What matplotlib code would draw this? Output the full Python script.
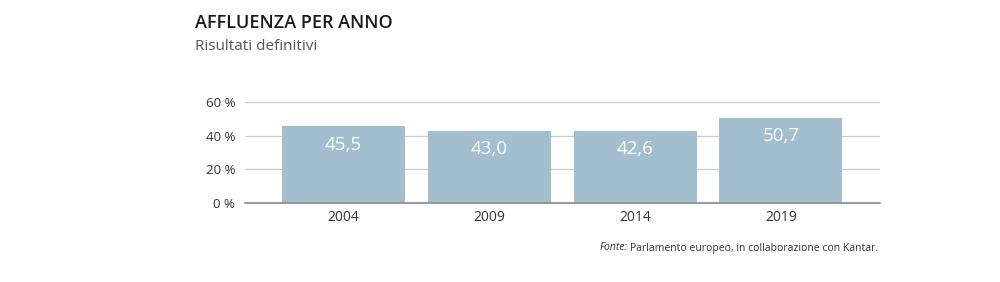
import matplotlib
matplotlib.use("Agg")
import matplotlib.pyplot as plt

years = ["2004", "2009", "2014", "2019"]
turnout = [45.5, 43.0, 42.6, 50.7]
yticks = [0, 20, 40, 60]
ytick_labels = ["0 %", "20 %", "40 %", "60 %"]

plt.rcParams['font.family'] = ['Open Sans', 'DejaVu Sans']

fig = plt.figure(figsize=(10, 2.82), dpi=100)
ax = fig.add_axes([0.245, 1 - 203 / 282, 0.635, (203 - 102) / 282])

x = list(range(len(years)))
bars = ax.bar(x, turnout, width=0.845, color="#a3bfcf", zorder=3)
for xi, v in zip(x, turnout):
    ax.text(xi, v - 10.8, f"{v:.1f}".replace(".", ","), ha="center", va="center",
            color="white", fontsize=13.5, zorder=4)

ax.set_xlim(-0.676, 3.68)
ax.set_ylim(0, 60)
ax.set_yticks(yticks)
ax.set_yticklabels(ytick_labels, fontsize=9.5, color="#333333")
ax.set_xticks(x)
ax.set_xticklabels(years, fontsize=10, color="#333333")
ax.tick_params(length=0, pad=5)
ax.tick_params(axis="y", pad=7)
ax.grid(axis="y", color="#cccccc", linewidth=0.9, zorder=0)
for s in ["top", "right", "left"]:
    ax.spines[s].set_visible(False)
ax.spines["bottom"].set_color("#888888")
ax.spines["bottom"].set_linewidth(1.2)
ax.spines["bottom"].set_zorder(5)

fig.text(0.195, 1 - 23 / 282, "AFFLUENZA PER ANNO", fontsize=13, fontweight="semibold",
         color="#1a1a1a", va="center", ha="left")
fig.text(0.195, 1 - 46 / 282, "Risultati definitivi", fontsize=11, color="#555555",
         va="center", ha="left")
t1 = fig.text(0.878, 1 - 248 / 282, "Parlamento europeo, in collaborazione con Kantar.",
              fontsize=7.5, color="#333333", ha="right", va="center")
fig.canvas.draw()
bb = t1.get_window_extent()
fig.text(bb.x0 / fig.bbox.width - 0.002, 1 - 248 / 282, "Fonte:", fontsize=7.5,
         style="italic", color="#333333", ha="right", va="center")

fig.savefig("out.png", dpi=100)
